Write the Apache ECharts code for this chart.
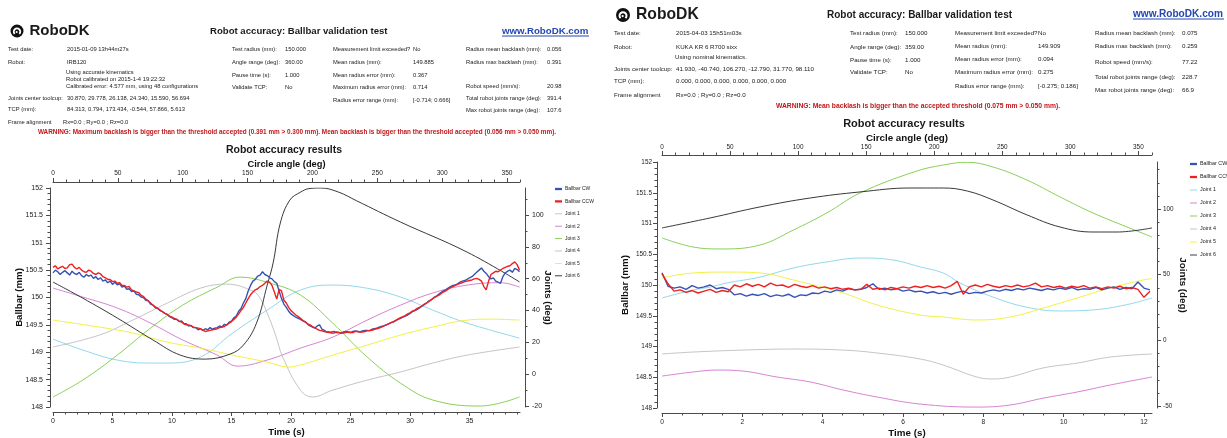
<!DOCTYPE html>
<html>
<head>
<meta charset="utf-8">
<script src="https://cdn.jsdelivr.net/npm/echarts@6/dist/echarts.min.js"></script>
<style>
html,body{margin:0;padding:0;background:#fff;}
#main{width:1227px;height:438px;}
</style>
</head>
<body>
<div id="main"></div>
<script>
// ---- series names / colours
const seriesNames = ['Ballbar CW', 'Ballbar CCW', 'Joint 1', 'Joint 2', 'Joint 3', 'Joint 4', 'Joint 5', 'Joint 6'];
const seriesColors = ['#3552b5', '#ee2020', '#86d3e8', '#d275cc', '#7ccb45', '#bdbdbd', '#f0ee30', '#222222'];

// ---- left test (IRB120), ballbar in mm sampled every 0.2 s
const leftBallStep = 0.2;
const leftCW = [150.45,150.50,150.47,150.42,150.46,150.49,150.45,150.41,150.48,150.44,
  150.42,150.46,150.40,150.37,150.42,150.39,150.41,150.35,150.38,150.33,
  150.36,150.30,150.32,150.27,150.30,150.24,150.28,150.23,150.25,150.19,
  150.21,150.15,150.16,150.11,150.12,150.06,150.05,150.01,150.0,149.95,
  149.94,149.88,149.86,149.81,149.8,149.76,149.74,149.71,149.69,149.65,
  149.63,149.6,149.6,149.56,149.57,149.52,149.52,149.48,149.49,149.45,
  149.45,149.41,149.43,149.4,149.43,149.41,149.45,149.42,149.44,149.45,
  149.48,149.46,149.51,149.5,149.55,149.57,149.63,149.66,149.75,149.8,
  149.9,149.98,150.12,150.22,150.3,150.33,150.39,150.41,150.47,150.42,
  150.4,150.36,150.34,150.29,150.26,150.12,149.98,149.88,149.82,149.75,
  149.7,149.67,149.64,149.62,149.6,149.57,149.56,149.51,149.48,149.46,
  149.44,149.48,149.5,149.42,149.4,149.37,149.37,149.35,149.35,149.37,
  149.36,149.35,149.37,149.38,149.37,149.36,149.38,149.39,149.38,149.37,
  149.39,149.4,149.4,149.39,149.42,149.43,149.44,149.46,149.47,149.48,
  149.5,149.52,149.54,149.55,149.58,149.6,149.62,149.64,149.66,149.68,
  149.71,149.74,149.76,149.78,149.81,149.84,149.87,149.9,149.94,149.96,
  150.0,150.02,150.06,150.09,150.12,150.14,150.17,150.2,150.22,150.23,
  150.25,150.28,150.3,150.31,150.33,150.36,150.38,150.42,150.46,150.5,
  150.54,150.48,150.44,150.38,150.34,150.36,150.3,150.28,150.26,150.38,
  150.45,150.48,150.5,150.46,150.53,150.51,150.47];
const leftCCW = [150.55,150.58,150.52,150.55,150.57,150.53,150.54,150.6,150.61,150.55,
  150.52,150.55,150.5,150.47,150.46,150.5,150.48,150.44,150.42,150.45,
  150.43,150.38,150.36,150.33,150.33,150.29,150.3,150.26,150.27,150.22,
  150.22,150.19,150.2,150.14,150.12,150.1,150.09,150.04,150.02,149.97,
  149.94,149.9,149.86,149.83,149.8,149.77,149.74,149.71,149.69,149.66,
  149.64,149.62,149.6,149.57,149.55,149.52,149.5,149.5,149.48,149.46,
  149.45,149.44,149.43,149.4,149.38,149.39,149.4,149.41,149.42,149.43,
  149.45,149.46,149.47,149.5,149.53,149.56,149.6,149.64,149.7,149.76,
  149.82,149.9,149.98,150.05,150.1,150.14,150.16,150.2,150.22,150.26,
  150.3,150.28,150.22,150.1,149.97,150.15,150.12,149.95,149.9,149.82,
  149.76,149.72,149.68,149.65,149.62,149.58,149.55,149.52,149.5,149.47,
  149.45,149.42,149.4,149.39,149.38,149.37,149.36,149.37,149.38,149.36,
  149.36,149.35,149.35,149.36,149.37,149.36,149.36,149.38,149.38,149.37,
  149.37,149.38,149.39,149.4,149.4,149.42,149.43,149.44,149.46,149.48,
  149.5,149.52,149.54,149.56,149.58,149.61,149.63,149.65,149.67,149.7,
  149.72,149.75,149.77,149.8,149.82,149.85,149.88,149.9,149.93,149.96,
  149.99,150.02,150.04,150.07,150.1,150.12,150.15,150.18,150.2,150.22,
  150.24,150.26,150.27,150.29,150.3,150.31,150.32,150.34,150.35,150.33,
  150.3,150.2,150.14,150.3,150.42,150.45,150.48,150.47,150.5,150.53,
  150.55,150.57,150.58,150.62,150.65,150.6,150.5];
// joints: [time s, deg]
const leftJ1 = [[0,22.1],[2.5,15.2],[5.4,8.9],[8.2,7],[9.6,7],[12.4,10.8],[15.1,25.9],[18,40.3],[20.8,52.9],[23.5,56],[26.4,54],[29.2,48.5],[31.9,40.3],[34.8,32.1],[39.2,22.7]];
const leftJ2 = [[0,54.1],[2.5,48.5],[5.4,41.6],[8.2,32.1],[10.9,21.5],[13.8,12],[15.5,5.1],[18,8.9],[20.8,16.4],[23.5,23.3],[26.4,34],[29.2,43.4],[31.9,51],[34.8,56],[37.6,57.5],[39.2,54.7]];
const leftJ3 = [[0,-14.3],[2.5,-3.7],[5.4,12],[8.2,29],[10.9,43.4],[13.8,54.7],[15.7,61],[18.2,57.3],[20.8,49.7],[23.5,32.1],[26.4,10.8],[29.2,-5.6],[31.9,-16.2],[35.9,-20],[39.2,-14.3]];
const leftJ4 = [[0,17.1],[3.9,24.6],[6.7,34],[9.6,44.7],[12.4,54.1],[14.6,56.6],[16.8,52.2],[17.4,47.8],[18,38.4],[18.7,24.6],[19.3,10.8],[20.8,-10],[21.8,-14.3],[23.5,-10],[26.4,-3.7],[29.2,1.4],[31.9,7],[34.8,12],[39.2,17.1]];
const leftJ5 = [[0,34],[3.9,29.6],[6.7,25.9],[9.6,20.2],[12.4,16.4],[15.1,12],[18,7.6],[19.8,4.5],[20.8,5.8],[23.5,12],[26.4,18.3],[29.2,24.6],[31.9,29.6],[34.8,34],[36.7,34.6],[39.2,34]];
const leftJ6 = [[0,57.9],[2.5,47.8],[5.4,35.3],[8.4,21.5],[10.7,12],[12.8,9.5],[14.9,12.7],[16,18.3],[17.1,32.1],[18,56],[18.5,70],[19.1,95],[19.9,109.4],[20.8,114.4],[21.5,116.6],[22.5,117],[24,114.4],[25.5,109],[29.2,95.6],[34.8,76.7],[39.2,58]];

// ---- right test (KUKA KR 6 R700 sixx), ballbar in mm sampled every 0.15 s
const rightBallStep = 0.15;
const rightCW = [150.2,149.98,149.95,149.97,149.93,149.99,149.95,149.97,150.0,149.94,
  149.96,149.93,149.84,149.86,149.82,149.85,149.83,149.86,149.81,149.84,
  149.82,149.85,149.8,149.84,149.83,149.87,149.86,149.9,149.88,149.92,
  149.9,149.94,149.92,149.93,149.96,150.02,149.93,149.95,149.92,149.94,
  149.9,149.92,149.89,149.9,149.87,149.89,149.86,149.88,149.85,149.88,
  149.9,149.86,149.88,149.87,149.9,149.92,149.9,149.93,149.91,149.94,
  149.92,149.95,149.93,149.91,149.94,149.92,149.95,149.93,149.96,149.92,
  149.94,149.93,149.96,149.92,149.95,149.97,149.93,149.96,149.94,150.05,
  149.95,149.92];
const rightCCW = [150.18,150.02,149.9,149.92,149.88,149.91,149.87,149.9,149.93,149.88,
  149.91,149.89,150.0,149.97,150.02,149.98,150.01,149.97,150.03,149.99,
  150.0,149.96,150.01,149.98,149.96,149.99,149.95,149.97,149.94,149.96,
  149.93,149.95,149.92,149.93,150.01,149.93,149.95,149.92,149.96,149.94,
  149.97,149.95,149.98,149.96,149.99,149.96,149.98,149.95,149.99,150.06,
  149.85,149.97,150.0,149.97,150.01,149.98,149.96,149.99,149.97,150.0,
  149.97,149.99,150.03,149.97,149.99,149.96,149.98,149.95,149.98,149.96,
  149.99,149.95,149.97,149.94,149.97,149.95,149.98,149.94,149.96,149.93,
  149.8,149.9];
const rightJ1 = [[0,32.3],[0.77,38.3],[1.2,40.6],[1.62,43.7],[2.44,48.2],[3.27,55.1],[4.1,59.7],[4.93,62.7],[5.75,61.2],[6.43,55.9],[7.0,51.3],[7.42,43.7],[8.24,33],[9.06,25.4],[9.89,22.4],[10.7,23.1],[11.53,26.9],[12.2,32.3]];
const rightJ2 = [[0,-27.2],[0.77,-24.1],[1.37,-22.6],[2.02,-23.4],[2.86,-27.9],[3.69,-31.7],[4.51,-37.8],[5.35,-43.1],[6.43,-48.5],[7.84,-50.8],[8.67,-49.2],[9.49,-44],[10.34,-39.3],[11.16,-34],[12.2,-27.9]];
const rightJ3 = [[0,78],[0.77,71.1],[1.45,69.6],[2.44,72.6],[3.27,84],[4.1,97],[4.93,112.2],[6.3,128.5],[7.0,133.5],[7.6,135.6],[8.24,132],[9.09,122],[9.91,109.2],[10.73,97],[11.58,86.3],[12.2,78.7]];
const rightJ4 = [[0,-10.4],[0.77,-8.9],[2.02,-7.4],[3.27,-6.6],[4.51,-7.4],[5.35,-9.6],[6.43,-14.2],[7.0,-18.8],[7.84,-27.9],[8.24,-29.4],[8.67,-27.9],[9.49,-21],[10.34,-17.3],[11.16,-12.7],[12.2,-10.4]];
const rightJ5 = [[0,47.5],[0.77,51.3],[1.62,52],[2.44,51.3],[3.27,46],[4.51,36],[5.35,27],[6.43,19.3],[7.0,17.8],[7.84,15.5],[8.67,17.8],[9.49,24.6],[10.34,32.3],[11.16,39.9],[11.98,46],[12.2,47]];
const rightJ6 = [[0,85.6],[1.2,93.2],[2.44,101.6],[3.69,108.4],[4.93,113],[6.18,116],[7.0,116],[7.6,113.7],[8.24,106.9],[9.09,95.5],[9.91,86.3],[10.73,82.5],[11.33,82.5],[12.2,85.6]];

// ---- tick labels
const leftTimeTicks = [0, 5, 10, 15, 20, 25, 30, 35];
const rightTimeTicks = [0, 2, 4, 6, 8, 10, 12];
const angleTicks = [0, 50, 100, 150, 200, 250, 300, 350];
const mmTicks = [148, 148.5, 149, 149.5, 150, 150.5, 151, 151.5, 152];
const leftDegTicks = [-20, 0, 20, 40, 60, 80, 100];
const rightDegTicks = [-50, 0, 50, 100];

// ---- header texts
const leftHead = {
  date: '2015-01-09 13h44m27s', robot: 'IRB120',
  notes: ['Using accurate kinematics', 'Robot calibrated on 2015-1-4 19:22:32', 'Calibrated error: 4.577 mm, using 48 configurations'],
  toolcup: '30.870, 29.778, 26.138, 24.340, 15.590, 56.694',
  tcp: '84.313, 0.794, 173.434, -0.544, 57.866, 5.613',
  col2: ['150.000', '360.00', '1.000', 'No'],
  col3: ['No', '149.885', '0.367', '0.714', '[-0.714; 0.666]'],
  col4: ['0.056', '0.391', '20.98', '391.4', '107.6'],
  warning: 'WARNING: Maximum backlash is bigger than the threshold accepted (0.391 mm > 0.300 mm). Mean backlash is bigger than the threshold accepted (0.056 mm > 0.050 mm).'
};
const rightHead = {
  date: '2015-04-03 15h51m03s', robot: 'KUKA KR 6 R700 sixx',
  notes: ['Using nominal kinematics.'],
  toolcup: '41.930, -40.740, 106.270, -12.790, 31.770, 98.110',
  tcp: '0.000, 0.000, 0.000, 0.000, 0.000, 0.000',
  col2: ['150.000', '359.00', '1.000', 'No'],
  col3: ['No', '149.909', '0.094', '0.275', '[-0.275; 0.186]'],
  col4: ['0.075', '0.259', '77.22', '228.7', '66.9'],
  warning: 'WARNING: Mean backlash is bigger than the accepted threshold (0.075 mm > 0.050 mm).'
};
const col2Labels = ['Test radius (mm):', 'Angle range (deg):', 'Pause time (s):', 'Validate TCP:'];
const col3Labels = ['Measurement limit exceeded?', 'Mean radius (mm):', 'Mean radius error (mm):', 'Maximum radius error (mm):', 'Radius error range (mm):'];
const col4Labels = ['Radius mean backlash (mm):', 'Radius max backlash (mm):', 'Robot speed (mm/s):', 'Total robot joints range (deg):', 'Max robot joints range (deg):'];

const FONT = '"Liberation Sans", Arial, sans-serif';

function steps(a, b, s, skip) {
  const out = [];
  for (let v = a; v <= b + 1e-9; v += s) {
    const r = Math.round(v * 1000) / 1000;
    if (skip.indexOf(r) < 0) out.push(r);
  }
  return out;
}
function sampled(arr, step) {
  return arr.map(function (v, i) { return [Math.round(i * step * 100) / 100, v]; });
}
function txt(x, y, s, size, extra) {
  return { type: 'text', x: x, y: y, silent: true,
    style: Object.assign({ text: s, fontSize: size, fontFamily: FONT, fill: '#1a1a1a', align: 'left', verticalAlign: 'middle' }, extra || {}) };
}
function logo(cx, cy, r) {
  return { type: 'group', silent: true, children: [
    { type: 'circle', shape: { cx: cx, cy: cy, r: r }, style: { fill: '#111' } },
    { type: 'arc', shape: { cx: cx, cy: cy + r * 0.1, r: r * 0.5, startAngle: Math.PI * 0.75, endAngle: Math.PI * 2.25 }, style: { stroke: '#fff', fill: 'none', lineWidth: r * 0.28 } },
    { type: 'circle', shape: { cx: cx - r * 0.05, cy: cy + r * 0.15, r: r * 0.16 }, style: { fill: '#fff' } }
  ] };
}

// header builder, L holds layout numbers
function header(h, L) {
  const g = [];
  const s = L.small;
  g.push(logo(L.logoX, L.topY, L.logoR));
  g.push(txt(L.logoX + L.logoR + 6, L.topY, 'RoboDK', L.logoSize, { fontWeight: 'bold' }));
  g.push(txt(L.titleX, L.topY, 'Robot accuracy: Ballbar validation test', L.titleSize, { fontWeight: 'bold' }));
  g.push(txt(L.linkX, L.linkY, 'www.RoboDK.com', L.linkSize, { fontWeight: 'bold', fill: '#2446b0' }));
  g.push({ type: 'line', silent: true, shape: { x1: L.linkX, y1: L.linkY + 5, x2: L.linkX + L.linkW, y2: L.linkY + 5 }, style: { stroke: '#2446b0', lineWidth: 1 } });
  const c1 = [['Test date:', h.date], ['Robot:', h.robot], ['Joints center toolcup:', h.toolcup], ['TCP (mm):', h.tcp], ['Frame alignment', 'Rx=0.0 ; Ry=0.0 ; Rz=0.0']];
  c1.forEach(function (p, i) {
    g.push(txt(L.c1[0], L.r1[i], p[0], s));
    g.push(txt(L.c1[1] + (i === 4 ? L.frameDx : 0), L.r1[i], p[1], s));
  });
  h.notes.forEach(function (n, i) { g.push(txt(L.c1[1] - 1, L.notesY[i], n, s)); });
  col2Labels.forEach(function (lab, i) { g.push(txt(L.c2[0], L.r2[i], lab, s)); g.push(txt(L.c2[1], L.r2[i], h.col2[i], s)); });
  col3Labels.forEach(function (lab, i) { g.push(txt(L.c3[0], L.r3[i], lab, s)); g.push(txt(L.c3[1], L.r3[i], h.col3[i], s)); });
  col4Labels.forEach(function (lab, i) { g.push(txt(L.c4[0], L.r4[i], lab, s)); g.push(txt(L.c4[1], L.r4[i], h.col4[i], s)); });
  g.push(txt(L.warnX, L.warnY, h.warning, L.warnSize, { fontWeight: 'bold', fill: '#c0161a', align: 'center' }));
  g.push(txt(L.chartTitleX, L.chartTitleY, 'Robot accuracy results', L.chartTitleSize, { fontWeight: 'bold', align: 'center' }));
  return g;
}

const graphic = [].concat(
  header(leftHead, { logoX: 17, topY: 31, logoR: 6.5, logoSize: 15, titleX: 210, titleSize: 9.6, linkX: 502, linkY: 31, linkSize: 9.7, linkW: 87, small: 5.8,
    c1: [8, 67], r1: [49, 62, 98, 109, 122], frameDx: -4, notesY: [72, 79, 86],
    c2: [232, 285], r2: [49, 62, 75, 87], c3: [333, 413], r3: [49, 62, 75, 87, 100], c4: [466, 547], r4: [49, 62, 86, 98, 110],
    warnX: 297, warnY: 132, warnSize: 6.4, chartTitleX: 284, chartTitleY: 150, chartTitleSize: 10.5 }),
  header(rightHead, { logoX: 623, topY: 15, logoR: 7, logoSize: 15.7, titleX: 827, titleSize: 10, linkX: 1133, linkY: 14, linkSize: 10.1, linkW: 91, small: 6.2,
    c1: [614, 676], r1: [33, 47, 69, 81, 95], frameDx: 0, notesY: [57],
    c2: [850, 905], r2: [33, 47, 60, 72], c3: [955, 1038], r3: [33, 46, 59, 72, 86], c4: [1095, 1182], r4: [33, 46, 62, 77, 90],
    warnX: 918, warnY: 106, warnSize: 6.75, chartTitleX: 904, chartTitleY: 124, chartTitleSize: 11 })
);

// ---- axes
const AXC = '#4a4a4a';
function axisPair(grid, pos, range, major, minor, o) {
  const base = { gridIndex: grid, type: 'value', position: pos, min: range[0], max: range[1], offset: o.offset, splitLine: { show: false }, silent: true };
  const main = Object.assign({}, base, {
    axisLine: { show: true, onZero: false, lineStyle: { color: AXC, width: 1 } },
    axisTick: { show: true, customValues: major, length: 4, lineStyle: { color: AXC } },
    axisLabel: { show: true, customValues: major, fontSize: o.labelSize, fontFamily: FONT, color: '#222', margin: o.margin },
    name: o.name || '', nameLocation: 'middle', nameGap: o.nameGap, nameRotate: o.nameRotate, nameMoveOverlap: false,
    nameTextStyle: { fontSize: o.nameSize, fontWeight: 'bold', fontFamily: FONT, color: '#111' }
  });
  const mnr = Object.assign({}, base, {
    axisLine: { show: false, onZero: false },
    axisTick: { show: true, customValues: minor, length: 2.5, lineStyle: { color: AXC } },
    axisLabel: { show: false }
  });
  return [main, mnr];
}

const xAxis = [].concat(
  axisPair(0, 'bottom', [0, 39.24], leftTimeTicks, steps(0, 39, 1, leftTimeTicks), { offset: 5, labelSize: 7, margin: 6, name: 'Time (s)', nameGap: 15, nameSize: 9.6 }),
  axisPair(0, 'top', [0, 360], angleTicks, steps(0, 360, 10, angleTicks), { offset: 6, labelSize: 6.6, margin: 5, name: 'Circle angle (deg)', nameGap: 13, nameSize: 9.3 }),
  axisPair(1, 'bottom', [0, 12.2], rightTimeTicks, steps(0, 12, 0.5, rightTimeTicks), { offset: 5, labelSize: 6.6, margin: 6, name: 'Time (s)', nameGap: 15, nameSize: 9.8 }),
  axisPair(1, 'top', [0, 360], angleTicks, steps(0, 360, 10, angleTicks), { offset: 7, labelSize: 6.4, margin: 5, name: 'Circle angle (deg)', nameGap: 12, nameSize: 9.8 })
);
const yAxis = [].concat(
  axisPair(0, 'left', [148, 152], mmTicks, steps(148, 152, 0.1, mmTicks), { offset: 3, labelSize: 7, margin: 7, name: 'Ballbar (mm)', nameGap: 26, nameSize: 9.6 }),
  axisPair(0, 'right', [-20.6, 117], leftDegTicks, steps(-20, 110, 10, leftDegTicks), { offset: 5, labelSize: 7, margin: 7, name: 'Joints (deg)', nameGap: 18, nameSize: 9.6, nameRotate: -90 }),
  axisPair(1, 'left', [148, 152], mmTicks, steps(148, 152, 0.1, mmTicks), { offset: 5, labelSize: 6.4, margin: 5, name: 'Ballbar (mm)', nameGap: 27, nameSize: 9.8 }),
  axisPair(1, 'right', [-51.5, 135.8], rightDegTicks, steps(-50, 130, 10, rightDegTicks), { offset: 5, labelSize: 6.4, margin: 6, name: 'Joints (deg)', nameGap: 21, nameSize: 9.8, nameRotate: -90 })
);

// ---- series
function buildSeries(xi, yMm, yDeg, cw, ccw, step, joints) {
  const out = [];
  [cw, ccw].forEach(function (arr, k) {
    out.push({ name: seriesNames[k], type: 'line', xAxisIndex: xi, yAxisIndex: yMm, data: sampled(arr, step),
      showSymbol: false, symbol: 'none', z: 3, color: seriesColors[k], lineStyle: { width: 1.4, color: seriesColors[k] } });
  });
  joints.forEach(function (arr, j) {
    out.push({ name: seriesNames[j + 2], type: 'line', xAxisIndex: xi, yAxisIndex: yDeg, data: arr, smooth: 0.4,
      showSymbol: false, symbol: 'none', z: 2, color: seriesColors[j + 2], lineStyle: { width: 0.9, color: seriesColors[j + 2] } });
  });
  return out;
}
const series = [].concat(
  buildSeries(0, 0, 2, leftCW, leftCCW, leftBallStep, [leftJ1, leftJ2, leftJ3, leftJ4, leftJ5, leftJ6]),
  buildSeries(4, 4, 6, rightCW, rightCCW, rightBallStep, [rightJ1, rightJ2, rightJ3, rightJ4, rightJ5, rightJ6])
);

function legendAt(left, top, gap, size) {
  return { orient: 'vertical', left: left, top: top, itemWidth: 7, itemHeight: 3, itemGap: gap, padding: 0,
    selectedMode: false,
    textStyle: { fontSize: size, fontFamily: FONT, color: '#222', lineHeight: 6, padding: [0, 0, 0, -2] },
    data: seriesNames.map(function (n, i) {
      return { name: n, icon: i < 2 ? 'path://M0,0H8V2.6H0Z' : 'path://M0,0H8V1H0Z' };
    }) };
}

const chart = echarts.init(document.getElementById('main'), null, { renderer: 'canvas' });
chart.setOption({
  animation: false,
  backgroundColor: '#fff',
  grid: [
    { left: 53, top: 188, width: 467, height: 219, containLabel: false, outerBoundsMode: 'none' },
    { left: 662, top: 162, width: 490, height: 246, containLabel: false, outerBoundsMode: 'none' }
  ],
  xAxis: xAxis,
  yAxis: yAxis,
  legend: [legendAt(555, 186, 6.4, 5), legendAt(1190, 161, 7, 5.4)],
  graphic: graphic,
  series: series
});
</script>
</body>
</html>
